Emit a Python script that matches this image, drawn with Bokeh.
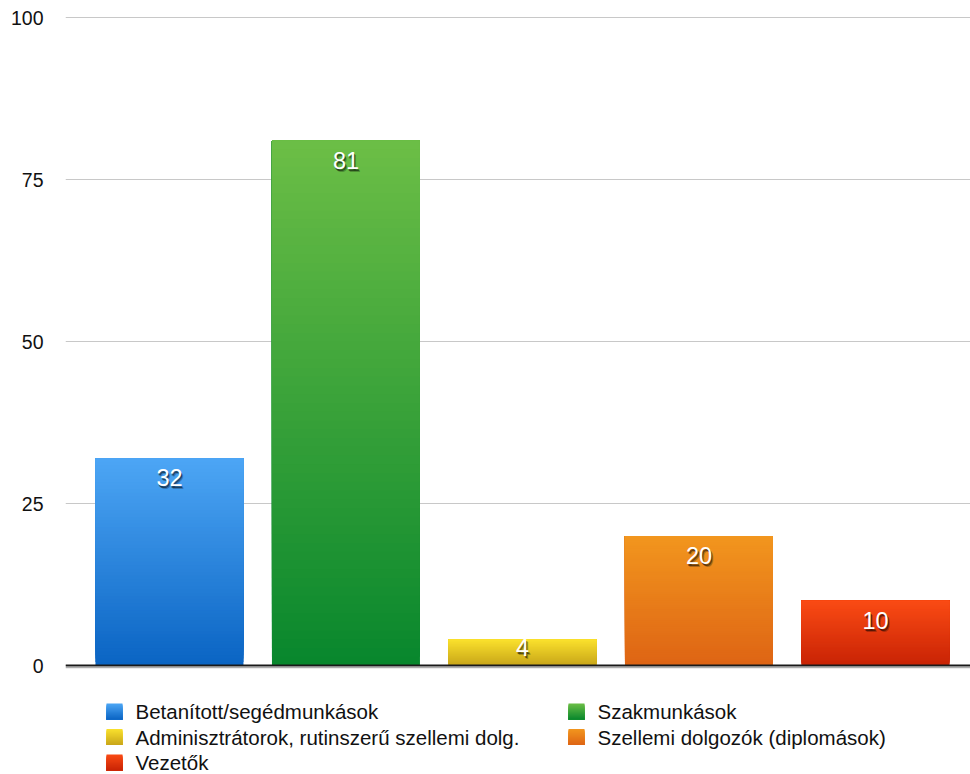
import numpy as np
from bokeh.plotting import figure
from bokeh.models import Range1d, FixedTicker, Span, ColumnDataSource
from bokeh.layouts import column
from bokeh.embed import file_html
from bokeh.resources import INLINE
from bokeh.core.properties import value

# ---- data ----
categories = ["Betanított/segédmunkások", "Szakmunkások",
              "Adminisztrátorok, rutinszerű szellemi dolg.",
              "Szellemi dolgozók (diplomások)", "Vezetők"]
values = [32, 81, 4, 20, 10]
y_ticks = [0, 25, 50, 75, 100]
top_colors = ["#4DA6F5", "#6CBE46", "#FAE12D", "#F2961E", "#FA4B14"]
bottom_colors = ["#0A64C3", "#08872D", "#C8A519", "#DE6414", "#C82305"]

FONT = "Liberation Sans"
TEXT_COLOR = "#111111"


def hex2rgb(h):
    h = h.lstrip("#")
    return np.array([int(h[i:i + 2], 16) for i in (0, 2, 4)], dtype=float)


def lerp(c1, c2, t):
    c = hex2rgb(c1) * (1 - t) + hex2rgb(c2) * t
    return "#%02x%02x%02x" % tuple(int(round(v)) for v in c)


# ---- chart ----
W = 970
CH = 680
LEFT = 65
PX_PER_UNIT = 6.48
x_start = -0.589
x_end = x_start + (W - LEFT) / 176.5
y_end = 100 + 1 / PX_PER_UNIT
y_start = -4 / PX_PER_UNIT

p = figure(width=W, height=CH, output_backend="svg", toolbar_location=None,
           x_range=Range1d(x_start, x_end), y_range=Range1d(y_start, y_end),
           x_axis_location=None,
           min_border_left=LEFT, min_border_right=0, min_border_top=16,
           min_border_bottom=CH - 669)
p.outline_line_color = None
p.background_fill_color = "white"
p.border_fill_color = "white"
p.xgrid.visible = False
p.ygrid.ticker = FixedTicker(ticks=y_ticks)
p.ygrid.grid_line_color = "#c8c8c8"
p.ygrid.grid_line_width = 1

ax = p.yaxis[0]
ax.ticker = FixedTicker(ticks=y_ticks)
ax.axis_line_color = None
ax.major_tick_line_color = None
ax.minor_tick_line_color = None
ax.major_tick_in = 0
ax.major_tick_out = 0
ax.major_label_standoff = 22
ax.major_label_text_font = FONT
ax.major_label_text_font_size = "19.5px"
ax.major_label_text_color = TEXT_COLOR

# gradient bars: each bar covered by N overlapping layers of its own height
N = 60
BAR_W = 148 / 176.5
lefts, rights, bottoms, tops, cols = [], [], [], [], []
for i, v in enumerate(values):
    for k in range(N):
        lefts.append(i - BAR_W / 2)
        rights.append(i + BAR_W / 2)
        bottoms.append(v * k / N)
        tops.append(v)
        cols.append(lerp(bottom_colors[i], top_colors[i], (k + 0.5) / N))
p.quad(left=lefts, right=rights, bottom=bottoms, top=tops,
       fill_color=cols, line_color=None)

# baseline
p.add_layout(Span(location=0, dimension="width", line_color="#1a1a1a", line_width=2))
p.add_layout(Span(location=-2.2 / PX_PER_UNIT, dimension="width",
                  line_color="#9a9a9a", line_width=1))

# value labels
offs = [(-1 if v * PX_PER_UNIT < 40 else 11) for v in values]
lab = ColumnDataSource(dict(x=list(range(len(values))), y=values,
                            t=[str(v) for v in values], off=offs,
                            off1=[o + 2 for o in offs], off2=[o + 3 for o in offs]))
p.text(x="x", y="y", text="t", source=lab, y_offset="off2", x_offset=2,
       text_font=value(FONT), text_font_size="23.5px", text_align="center",
       text_baseline="top", text_color="#000000", text_alpha=0.25)
p.text(x="x", y="y", text="t", source=lab, y_offset="off1", x_offset=1,
       text_font=value(FONT), text_font_size="23.5px", text_align="center",
       text_baseline="top", text_color="#000000", text_alpha=0.5)
p.text(x="x", y="y", text="t", source=lab, y_offset="off",
       text_font=value(FONT), text_font_size="23.5px", text_align="center",
       text_baseline="top", text_color="#ffffff")

# ---- legend ----
LH = 774 - CH
lg = figure(width=W, height=LH, output_backend="svg", toolbar_location=None,
            x_range=Range1d(LEFT, W), y_range=Range1d(LH, 0),
            x_axis_location=None, y_axis_location=None,
            min_border_left=LEFT, min_border_right=0, min_border_top=0, min_border_bottom=0)
lg.outline_line_color = None
lg.xgrid.visible = False
lg.ygrid.visible = False
lg.background_fill_color = "white"
lg.border_fill_color = "white"

col_x = [106, 568]
row_y0 = 711 - CH
pitch = 25.5
sq = 16
S = 16
ql, qr, qt, qb, qc = [], [], [], [], []
tx, ty, tt = [], [], []
for i, name in enumerate(categories):
    c = i % 2
    r = i // 2
    x0 = col_x[c]
    yc = row_y0 + r * pitch
    for k in range(S):
        # y increases downward in this legend figure; layers overlap downward
        ql.append(x0)
        qr.append(x0 + sq)
        qt.append(yc - sq / 2 + k * sq / S)
        qb.append(yc + sq / 2)
        qc.append(lerp(top_colors[i], bottom_colors[i], (k + 0.5) / S))
    tx.append(x0 + sq + 13)
    ty.append(yc)
    tt.append(name)
lg.quad(left=ql, right=qr, top=qt, bottom=qb, fill_color=qc, line_color=None)
lg.text(x=tx, y=ty, text=tt, text_font=value(FONT), text_font_size="20.5px",
        text_align="left", text_baseline="middle", text_color=TEXT_COLOR)

layout = column(p, lg, spacing=0)
open("out.html", "w").write(file_html(layout, INLINE))
